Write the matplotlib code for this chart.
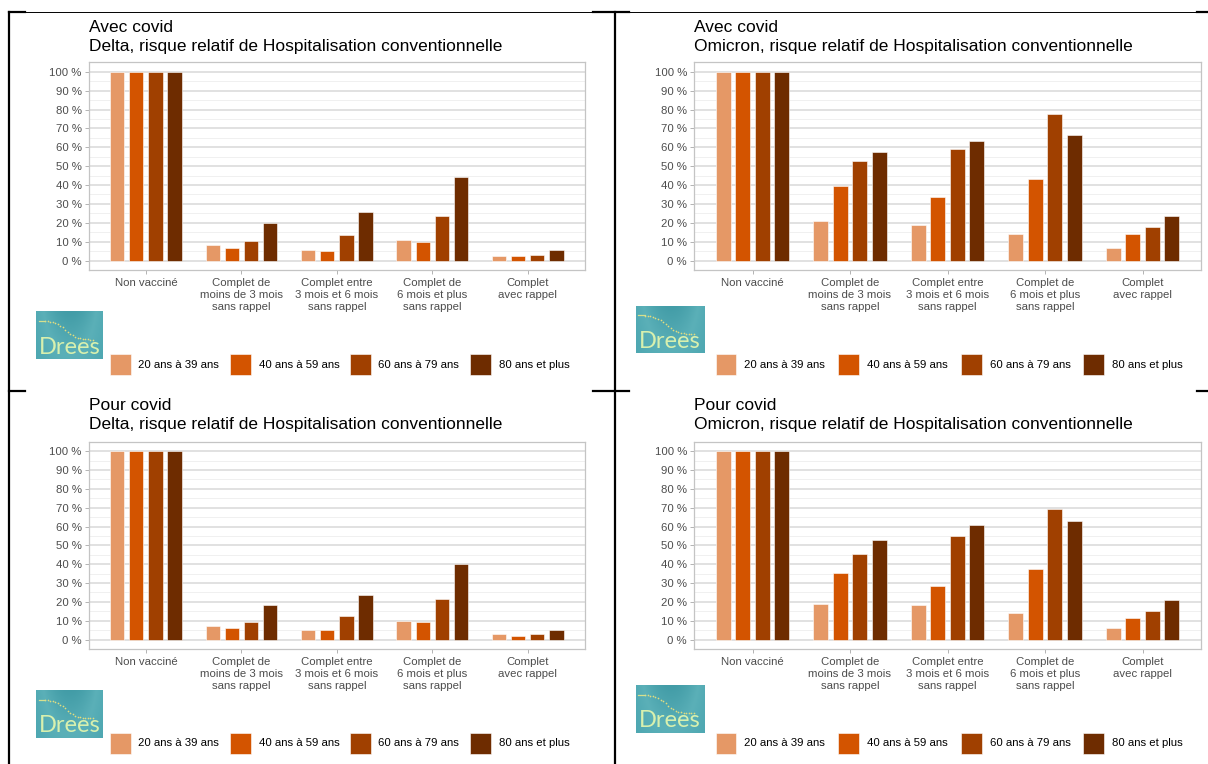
import numpy as np
import matplotlib
matplotlib.use("Agg")
import matplotlib.pyplot as plt
from matplotlib.patches import Rectangle
from matplotlib.lines import Line2D
from matplotlib.colors import LinearSegmentedColormap

plt.rcParams['font.family'] = ['Liberation Sans', 'DejaVu Sans']

# ---- data -------------------------------------------------------------
categories = [
    "Non vacciné",
    "Complet de\nmoins de 3 mois\nsans rappel",
    "Complet entre\n3 mois et 6 mois\nsans rappel",
    "Complet de\n6 mois et plus\nsans rappel",
    "Complet\navec rappel",
]
age_groups = ["20 ans à 39 ans", "40 ans à 59 ans", "60 ans à 79 ans", "80 ans et plus"]
age_colors = ["#E59866", "#D35400", "#A04000", "#6E2C00"]

y_ticks = [0, 10, 20, 30, 40, 50, 60, 70, 80, 90, 100]
y_tick_labels = [f"{v} %" for v in y_ticks]

# relative risk (%) per age group (rows) and vaccination status (columns)
avec_delta = [
    [100, 8.3, 5.6, 10.9, 2.6],
    [100, 6.7, 5.3, 9.7, 2.3],
    [100, 10.4, 13.6, 23.6, 3.0],
    [100, 20.1, 25.7, 44.3, 5.8],
]
avec_omicron = [
    [100, 20.8, 18.9, 13.9, 6.7],
    [100, 39.7, 33.7, 43.4, 14.3],
    [100, 52.9, 58.9, 77.6, 17.6],
    [100, 57.5, 63.5, 66.3, 23.8],
]
pour_delta = [
    [100, 7.4, 4.9, 9.7, 2.8],
    [100, 6.3, 4.9, 9.2, 2.1],
    [100, 9.5, 12.5, 21.7, 2.8],
    [100, 18.5, 23.6, 40.1, 5.1],
]
pour_omicron = [
    [100, 18.8, 18.3, 14.3, 6.3],
    [100, 35.4, 28.3, 37.7, 11.4],
    [100, 45.6, 54.9, 69.5, 15.1],
    [100, 52.6, 60.6, 62.9, 21.0],
]

W, H = 1208, 764
fig = plt.figure(figsize=(W / 100, H / 100), dpi=100)
fig.patch.set_facecolor("white")


def px_axes(x0, y0, x1, y1, **kw):
    return fig.add_axes([x0 / W, 1 - y1 / H, (x1 - x0) / W, (y1 - y0) / H], **kw)


def fx(x):
    return x / W


def fy(y):
    return 1 - y / H


logo_cmap = LinearSegmentedColormap.from_list(
    "logo", ["#23808F", "#3F9DAA", "#5BB0B8", "#2E8C99"])


def draw_logo(x0, y0, x1, y1):
    ax = px_axes(x0, y0, x1, y1)
    gx, gy = np.meshgrid(np.linspace(0, 1, 60), np.linspace(0, 1, 40))
    shade = 0.45 + 0.4 * np.sin(gx * 2.5 + 0.3) * (1 - gy * 0.5)
    ax.imshow(shade, cmap=logo_cmap, extent=(0, 1, 0, 1), aspect="auto",
              vmin=0, vmax=1, origin="upper")
    t = np.linspace(0.14, 0.85, 20)
    curve = 0.80 - 0.40 / (1 + np.exp(-(t - 0.45) * 12))
    ax.plot([0.04, 0.14], [0.80, 0.80], color="#D6E08E", lw=0.9)
    ax.scatter(t, curve, s=1.5, color="#E0DC80", lw=0)
    ax.text(0.5, 0.03, "Drees", ha="center", va="bottom", fontsize=17,
            color="#D8F0AE", family=["Lato", "DejaVu Sans"])
    ax.set_xlim(0, 1)
    ax.set_ylim(0, 1)
    ax.axis("off")


def draw_panel(box, values, line1, line2, title_y, logo_box, legend_x, legend_y):
    x0, y0, x1, y1 = box
    ax = px_axes(x0, y0, x1, y1)
    n_groups = len(age_groups)
    xpos = np.arange(len(categories))
    step, width = 0.2, 0.15
    for i, (vals, col) in enumerate(zip(values, age_colors)):
        offs = (i - (n_groups - 1) / 2) * step
        ax.bar(xpos + offs, vals, width=width, color=col, edgecolor="white",
               linewidth=0.4, zorder=3)
    ax.set_xlim(-0.6, len(categories) - 0.4)
    ax.set_ylim(-5, 105)
    ax.set_yticks(y_ticks)
    ax.set_yticklabels(y_tick_labels)
    ax.set_yticks(np.arange(5, 100, 10), minor=True)
    ax.set_xticks(xpos)
    ax.set_xticklabels(categories, linespacing=1.22)
    ax.grid(axis="y", which="major", color="#DEDEDE", lw=1.3, zorder=0)
    ax.grid(axis="y", which="minor", color="#F0F0F0", lw=0.7, zorder=0)
    ax.set_axisbelow(True)
    for s in ax.spines.values():
        s.set_color("#C4C4C4")
        s.set_linewidth(0.9)
    ax.tick_params(axis="both", which="major", length=3, width=0.7,
                   color="#B3B3B3", labelcolor="#4D4D4D", labelsize=8.2, pad=2)
    ax.tick_params(axis="x", which="major", pad=3)
    ax.tick_params(axis="y", which="minor", length=0)

    fig.text(fx(x0), fy(title_y[0]), line1, ha="left", va="center",
             fontsize=12.5, color="black")
    fig.text(fx(x0), fy(title_y[1]), line2, ha="left", va="center",
             fontsize=12.5, color="black")

    draw_logo(*logo_box)

    ly0, ly1 = legend_y
    for lx, col, lab in zip(legend_x, age_colors, age_groups):
        fig.add_artist(Rectangle((fx(lx), fy(ly1)), 21 / W, (ly1 - ly0) / H,
                                 transform=fig.transFigure, facecolor=col,
                                 edgecolor="white", lw=0.4))
        fig.text(fx(lx + 29), fy((ly0 + ly1) / 2), lab, ha="left", va="center",
                 fontsize=8.2, color="black")


left_legend_x = [109.5, 229.7, 349.5, 469.7]
right_legend_x = [715.5, 838.4, 960.6, 1083.0]

draw_panel((88.6, 62.3, 585, 270), avec_delta, "Avec covid",
           "Delta, risque relatif de Hospitalisation conventionnelle",
           (27, 46), (36, 311, 103, 359), left_legend_x, (354, 375))
draw_panel((694, 62.3, 1201, 270), avec_omicron, "Avec covid",
           "Omicron, risque relatif de Hospitalisation conventionnelle",
           (27, 46), (635.6, 306, 704, 353), right_legend_x, (354, 375))
draw_panel((88.6, 441.7, 585, 649), pour_delta, "Pour covid",
           "Delta, risque relatif de Hospitalisation conventionnelle",
           (406, 424.7), (36, 690, 103, 737.7), left_legend_x, (732.7, 754))
draw_panel((694, 441.7, 1201, 649), pour_omicron, "Pour covid",
           "Omicron, risque relatif de Hospitalisation conventionnelle",
           (406, 424.7), (635.6, 685, 704, 732.7), right_legend_x, (732.7, 754))

# ---- table frame lines ----------------------------------------------
thin, thick = 0.7, 1.6
frame = [
    ((9, 1208), (12, 12), thin),
    ((9, 25), (12, 12), thick),
    ((593, 629), (12, 12), thick),
    ((1197, 1208), (12, 12), thick),
    ((9, 9), (12, 764), thick),
    ((615, 615), (12, 764), thick),
    ((9, 25), (391, 391), thick),
    ((593, 629), (391, 391), thick),
    ((1197, 1208), (391, 391), thick),
]
for xs, ys, lw in frame:
    fig.add_artist(Line2D([fx(xs[0]), fx(xs[1])], [fy(ys[0]), fy(ys[1])],
                          transform=fig.transFigure, color="black", lw=lw))

fig.savefig("out.png", dpi=100, facecolor="white")
